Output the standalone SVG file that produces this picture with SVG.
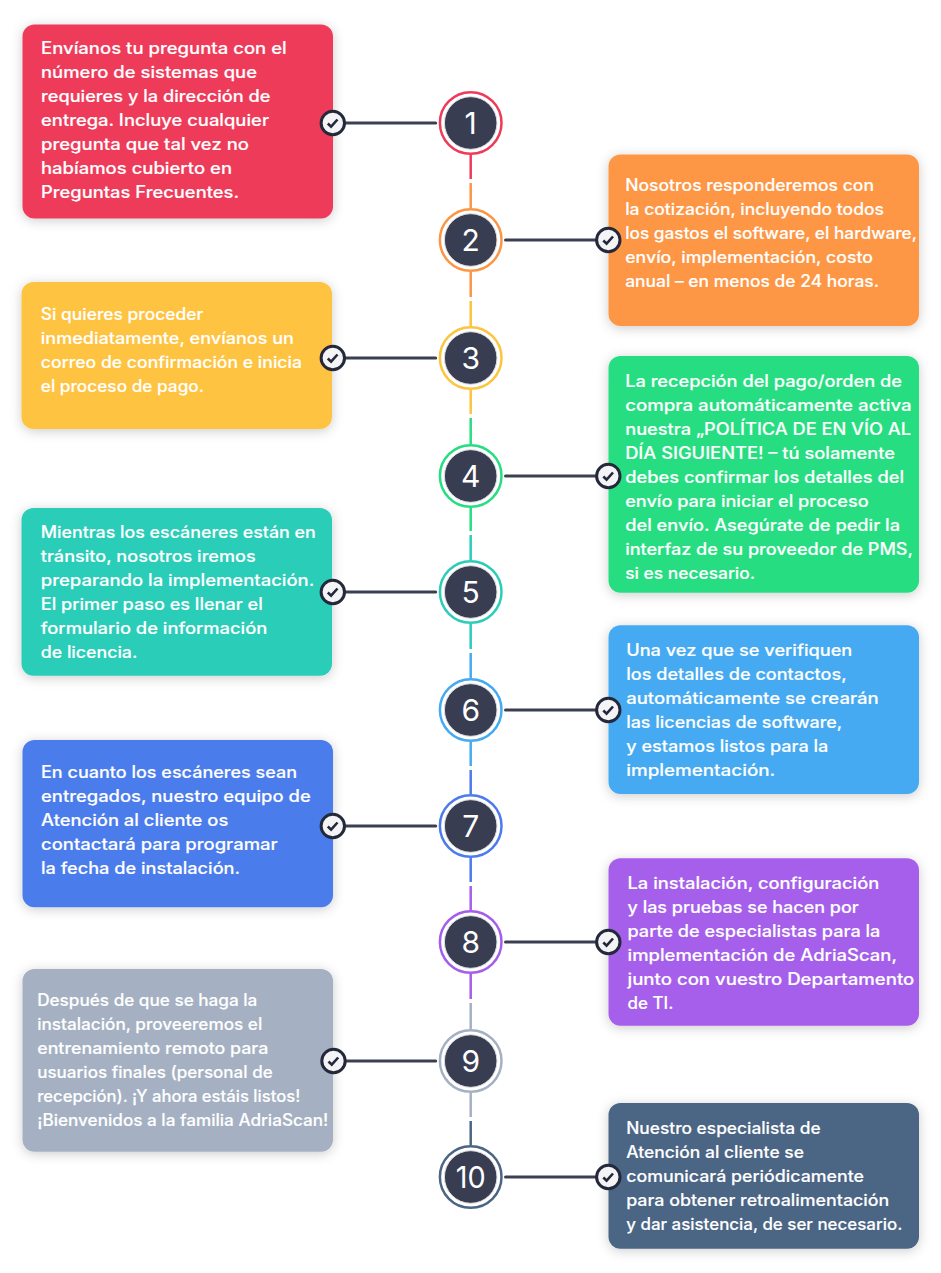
<svg xmlns="http://www.w3.org/2000/svg" width="941" height="1273" viewBox="0 0 941 1273">
<style>
.box{filter:url(#sh)}
.t{font-family:"Inter","Liberation Sans",sans-serif;font-size:16.6px;font-weight:500;fill:#fff;stroke:#fff;stroke-width:0.15}
.n{font-family:"Inter","Liberation Sans",sans-serif;font-size:30px;font-weight:400;fill:#fff;text-anchor:middle}
.ring{fill:#fff;stroke-width:2.5}
.core{fill:#383d51;stroke:#dcdde3;stroke-width:1}
.h{stroke:#3a3f52;stroke-width:3;stroke-linecap:round;fill:none}
.v{stroke-width:2.5;fill:none}
.c1{stroke:#ee3b5a}.c2{stroke:#fd9644}.c3{stroke:#fec33f}.c4{stroke:#26de81}.c5{stroke:#2bcdb8}.c6{stroke:#45aaf2}.c7{stroke:#4b7bec}.c8{stroke:#a55eea}.c9{stroke:#a5b1c2}.c10{stroke:#4b6584}
</style>
<defs>
<filter id="sh" x="-15%" y="-15%" width="130%" height="130%"><feDropShadow dx="0" dy="2" stdDeviation="6" flood-color="#000" flood-opacity="0.2"/></filter>
<g id="chk"><circle r="11.7" fill="#f4f4f6" stroke="#23283a" stroke-width="3"/><path d="M-5 0.5L-1.7 3.7L4.7-3.5" fill="none" stroke="#23283a" stroke-width="2.6"/></g>
</defs>
<rect width="941" height="1273" fill="#fff"/>
<g id="connectors">
<path class="v c1" d="M470.7 155V179"/><path class="v c2" d="M470.7 183V208"/>
<path class="v c2" d="M470.7 272V297"/><path class="v c3" d="M470.7 301V326"/>
<path class="v c3" d="M470.7 390V414"/><path class="v c4" d="M470.7 418V444"/>
<path class="v c4" d="M470.7 508V531"/><path class="v c5" d="M470.7 535V560"/>
<path class="v c5" d="M470.7 624V649"/><path class="v c6" d="M470.7 653V678"/>
<path class="v c6" d="M470.7 742V766"/><path class="v c7" d="M470.7 770V794"/>
<path class="v c7" d="M470.7 858V882"/><path class="v c8" d="M470.7 886V910"/>
<path class="v c8" d="M470.7 974V999"/><path class="v c9" d="M470.7 1003V1029"/>
<path class="v c9" d="M470.7 1093V1117"/><path class="v c10" d="M470.7 1121V1145"/>
<path class="h" d="M333 123H435.7"/><path class="h" d="M505.5 240H608"/>
<path class="h" d="M333 358H435.7"/><path class="h" d="M505.5 476H608"/>
<path class="h" d="M333 592H435.7"/><path class="h" d="M505.5 710H608"/>
<path class="h" d="M333 826H435.7"/><path class="h" d="M505.5 942H608"/>
<path class="h" d="M333 1061H435.7"/><path class="h" d="M505.5 1177H608"/>
</g>
<g id="step-1">
<rect class="box" x="22.5" y="24.5" width="310.5" height="194" rx="12" fill="#ee3b5a"/>
<g class="t">
<text x="41" y="54" textLength="245.7" lengthAdjust="spacingAndGlyphs">Envíanos tu pregunta con el</text>
<text x="41" y="78" textLength="216" lengthAdjust="spacingAndGlyphs">número de sistemas que</text>
<text x="41" y="102" textLength="229.5" lengthAdjust="spacingAndGlyphs">requieres y la dirección de</text>
<text x="41" y="126" textLength="228" lengthAdjust="spacingAndGlyphs">entrega. Incluye cualquier</text>
<text x="41" y="150" textLength="208" lengthAdjust="spacingAndGlyphs">pregunta que tal vez no</text>
<text x="41" y="174" textLength="191" lengthAdjust="spacingAndGlyphs">habíamos cubierto en</text>
<text x="41" y="198" textLength="198" lengthAdjust="spacingAndGlyphs">Preguntas Frecuentes.</text>
</g>
<use href="#chk" x="332.8" y="123"/>
<circle class="ring c1" cx="470.7" cy="123" r="30.8"/><circle class="core" cx="470.7" cy="123" r="26.3"/><text class="n" x="470.7" y="134">1</text>
</g>
<g id="step-2">
<rect class="box" x="608.5" y="154.5" width="310.5" height="171.5" rx="12" fill="#fd9644"/>
<g class="t">
<text x="625.2" y="191" textLength="248.8" lengthAdjust="spacingAndGlyphs">Nosotros responderemos con</text>
<text x="625.2" y="215" textLength="258.8" lengthAdjust="spacingAndGlyphs">la cotización, incluyendo todos</text>
<text x="625.2" y="239" textLength="291.8" lengthAdjust="spacingAndGlyphs">los gastos el software, el hardware,</text>
<text x="625.2" y="263" textLength="247.8" lengthAdjust="spacingAndGlyphs">envío, implementación, costo</text>
<text x="625.2" y="287" textLength="253.8" lengthAdjust="spacingAndGlyphs">anual – en menos de 24 horas.</text>
</g>
<use href="#chk" x="608.3" y="240"/>
<circle class="ring c2" cx="470.7" cy="240" r="30.8"/><circle class="core" cx="470.7" cy="240" r="26.3"/><text class="n" x="470.7" y="251">2</text>
</g>
<g id="step-3">
<rect class="box" x="21.5" y="282" width="310.5" height="147" rx="12" fill="#fec33f"/>
<g class="t">
<text x="40.8" y="320" textLength="162.5" lengthAdjust="spacingAndGlyphs">Si quieres proceder</text>
<text x="40.8" y="344" textLength="253.2" lengthAdjust="spacingAndGlyphs">inmediatamente, envíanos un</text>
<text x="40.8" y="368" textLength="261.2" lengthAdjust="spacingAndGlyphs">correo de confirmación e inicia</text>
<text x="40.8" y="392" textLength="163.2" lengthAdjust="spacingAndGlyphs">el proceso de pago.</text>
</g>
<use href="#chk" x="332.8" y="358"/>
<circle class="ring c3" cx="470.7" cy="358" r="30.8"/><circle class="core" cx="470.7" cy="358" r="26.3"/><text class="n" x="470.7" y="369">3</text>
</g>
<g id="step-4">
<rect class="box" x="608.5" y="356" width="310.5" height="236.7" rx="12" fill="#26de81"/>
<g class="t">
<text x="625.2" y="387" textLength="276.8" lengthAdjust="spacingAndGlyphs">La recepción del pago/orden de</text>
<text x="625.2" y="411" textLength="286.5" lengthAdjust="spacingAndGlyphs">compra automáticamente activa</text>
<text x="625.2" y="435" textLength="285.8" lengthAdjust="spacingAndGlyphs">nuestra „POLÍTICA DE EN VÍO AL</text>
<text x="625.2" y="459" textLength="269.8" lengthAdjust="spacingAndGlyphs">DÍA SIGUIENTE! – tú solamente</text>
<text x="625.2" y="483" textLength="278.8" lengthAdjust="spacingAndGlyphs">debes confirmar los detalles del</text>
<text x="625.2" y="507" textLength="243.5" lengthAdjust="spacingAndGlyphs">envío para iniciar el proceso</text>
<text x="625.2" y="531" textLength="274.8" lengthAdjust="spacingAndGlyphs">del envío. Asegúrate de pedir la</text>
<text x="625.2" y="555" textLength="287.8" lengthAdjust="spacingAndGlyphs">interfaz de su proveedor de PMS,</text>
<text x="625.2" y="579" textLength="129.8" lengthAdjust="spacingAndGlyphs">si es necesario.</text>
</g>
<use href="#chk" x="608.3" y="476"/>
<circle class="ring c4" cx="470.7" cy="476" r="30.8"/><circle class="core" cx="470.7" cy="476" r="26.3"/><text class="n" x="470.7" y="487">4</text>
</g>
<g id="step-5">
<rect class="box" x="21.5" y="508" width="310.5" height="167.7" rx="12" fill="#2bcdb8"/>
<g class="t">
<text x="40.8" y="538" textLength="274.9" lengthAdjust="spacingAndGlyphs">Mientras los escáneres están en</text>
<text x="40.8" y="562" textLength="214.9" lengthAdjust="spacingAndGlyphs">tránsito, nosotros iremos</text>
<text x="40.8" y="586" textLength="273.5" lengthAdjust="spacingAndGlyphs">preparando la implementación.</text>
<text x="40.8" y="610" textLength="221.9" lengthAdjust="spacingAndGlyphs">El primer paso es llenar el</text>
<text x="40.8" y="634" textLength="226.5" lengthAdjust="spacingAndGlyphs">formulario de información</text>
<text x="40.8" y="658" textLength="96.5" lengthAdjust="spacingAndGlyphs">de licencia.</text>
</g>
<use href="#chk" x="332.8" y="592"/>
<circle class="ring c5" cx="470.7" cy="592" r="30.8"/><circle class="core" cx="470.7" cy="592" r="26.3"/><text class="n" x="470.7" y="603">5</text>
</g>
<g id="step-6">
<rect class="box" x="608.5" y="625.3" width="310.5" height="168.7" rx="12" fill="#45aaf2"/>
<g class="t">
<text x="626.2" y="656" textLength="226.1" lengthAdjust="spacingAndGlyphs">Una vez que se verifiquen</text>
<text x="626.2" y="680" textLength="220.5" lengthAdjust="spacingAndGlyphs">los detalles de contactos,</text>
<text x="626.2" y="704" textLength="252.5" lengthAdjust="spacingAndGlyphs">automáticamente se crearán</text>
<text x="626.2" y="728" textLength="216.1" lengthAdjust="spacingAndGlyphs">las licencias de software,</text>
<text x="626.2" y="752" textLength="202.1" lengthAdjust="spacingAndGlyphs">y estamos listos para la</text>
<text x="626.2" y="776" textLength="149.1" lengthAdjust="spacingAndGlyphs">implementación.</text>
</g>
<use href="#chk" x="608.3" y="710"/>
<circle class="ring c6" cx="470.7" cy="710" r="30.8"/><circle class="core" cx="470.7" cy="710" r="26.3"/><text class="n" x="470.7" y="721">6</text>
</g>
<g id="step-7">
<rect class="box" x="22.5" y="740" width="310.5" height="167.3" rx="12" fill="#4b7bec"/>
<g class="t">
<text x="41" y="778" textLength="256" lengthAdjust="spacingAndGlyphs">En cuanto los escáneres sean</text>
<text x="41" y="802" textLength="269.7" lengthAdjust="spacingAndGlyphs">entregados, nuestro equipo de</text>
<text x="41" y="826" textLength="187.3" lengthAdjust="spacingAndGlyphs">Atención al cliente os</text>
<text x="41" y="850" textLength="236.7" lengthAdjust="spacingAndGlyphs">contactará para programar</text>
<text x="41" y="874" textLength="199" lengthAdjust="spacingAndGlyphs">la fecha de instalación.</text>
</g>
<use href="#chk" x="332.8" y="826"/>
<circle class="ring c7" cx="470.7" cy="826" r="30.8"/><circle class="core" cx="470.7" cy="826" r="26.3"/><text class="n" x="470.7" y="837">7</text>
</g>
<g id="step-8">
<rect class="box" x="608.5" y="858.3" width="310.5" height="167.4" rx="12" fill="#a55eea"/>
<g class="t">
<text x="627.5" y="889" textLength="251.8" lengthAdjust="spacingAndGlyphs">La instalación, configuración</text>
<text x="627.5" y="913" textLength="231.2" lengthAdjust="spacingAndGlyphs">y las pruebas se hacen por</text>
<text x="627.5" y="937" textLength="252.8" lengthAdjust="spacingAndGlyphs">parte de especialistas para la</text>
<text x="627.5" y="961" textLength="269.5" lengthAdjust="spacingAndGlyphs">implementación de AdriaScan,</text>
<text x="627.5" y="985" textLength="286.8" lengthAdjust="spacingAndGlyphs">junto con vuestro Departamento</text>
<text x="627.5" y="1009" textLength="45.8" lengthAdjust="spacingAndGlyphs">de TI.</text>
</g>
<use href="#chk" x="608.3" y="942"/>
<circle class="ring c8" cx="470.7" cy="942" r="30.8"/><circle class="core" cx="470.7" cy="942" r="26.3"/><text class="n" x="470.7" y="953">8</text>
</g>
<g id="step-9">
<rect class="box" x="22.5" y="969" width="310.5" height="182.7" rx="12" fill="#a5b1c2"/>
<g class="t">
<text x="37.2" y="1006" textLength="220.1" lengthAdjust="spacingAndGlyphs">Después de que se haga la</text>
<text x="37.2" y="1030" textLength="225.1" lengthAdjust="spacingAndGlyphs">instalación, proveeremos el</text>
<text x="37.2" y="1054" textLength="231.1" lengthAdjust="spacingAndGlyphs">entrenamiento remoto para</text>
<text x="37.2" y="1078" textLength="235.5" lengthAdjust="spacingAndGlyphs">usuarios finales (personal de</text>
<text x="37.2" y="1102" textLength="263.1" lengthAdjust="spacingAndGlyphs">recepción). ¡Y ahora estáis listos!</text>
<text x="37.2" y="1126" textLength="291.1" lengthAdjust="spacingAndGlyphs">¡Bienvenidos a la familia AdriaScan!</text>
</g>
<use href="#chk" x="333.5" y="1061"/>
<circle class="ring c9" cx="470.7" cy="1061" r="30.8"/><circle class="core" cx="470.7" cy="1061" r="26.3"/><text class="n" x="470.7" y="1072">9</text>
</g>
<g id="step-10">
<rect class="box" x="608.5" y="1103" width="310.5" height="145.7" rx="12" fill="#4b6584"/>
<g class="t">
<text x="626.2" y="1134" textLength="194.5" lengthAdjust="spacingAndGlyphs">Nuestro especialista de</text>
<text x="626.2" y="1158" textLength="177.8" lengthAdjust="spacingAndGlyphs">Atención al cliente se</text>
<text x="626.2" y="1182" textLength="237.8" lengthAdjust="spacingAndGlyphs">comunicará periódicamente</text>
<text x="626.2" y="1206" textLength="263.1" lengthAdjust="spacingAndGlyphs">para obtener retroalimentación</text>
<text x="626.2" y="1230" textLength="276.1" lengthAdjust="spacingAndGlyphs">y dar asistencia, de ser necesario.</text>
</g>
<use href="#chk" x="608.3" y="1177"/>
<circle class="ring c10" cx="470.7" cy="1177" r="30.8"/><circle class="core" cx="470.7" cy="1177" r="26.3"/><text class="n" x="470.7" y="1188" textLength="30" lengthAdjust="spacingAndGlyphs">10</text>
</g>
</svg>
